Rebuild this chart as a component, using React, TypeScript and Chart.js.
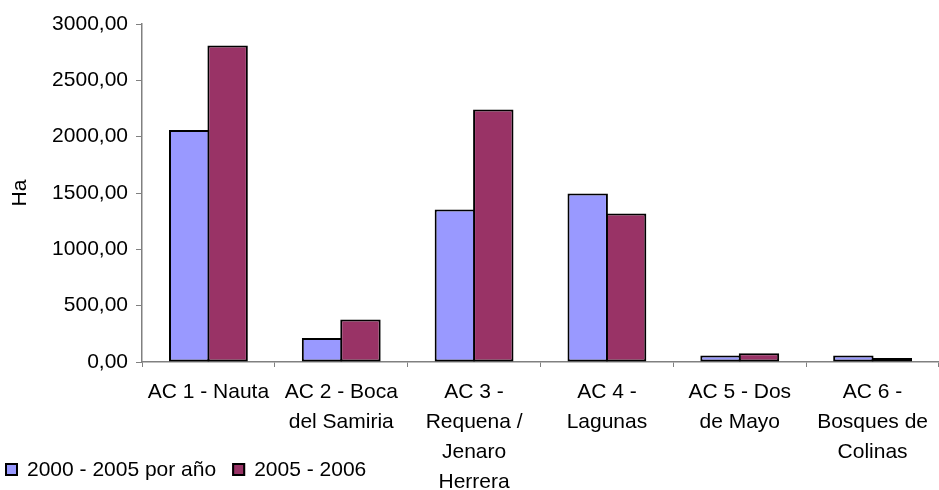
import React, { useEffect, useRef } from 'react';
import { Chart, registerables } from 'chart.js';

Chart.register(...registerables);

const FONT = "'Liberation Sans', Arial, sans-serif";

const categories: string[][] = [
  ['AC 1 - Nauta'],
  ['AC 2 - Boca', 'del Samiria'],
  ['AC 3 -', 'Requena /', 'Jenaro', 'Herrera'],
  ['AC 4 -', 'Lagunas'],
  ['AC 5 - Dos', 'de Mayo'],
  ['AC 6 -', 'Bosques de', 'Colinas'],
];

const series1Label = '2000 - 2005 por año';
const series1Values = [2060, 213, 1354, 1496, 57, 57];

const series2Label = '2005 - 2006';
const series2Values = [2810, 377, 2242, 1318, 77, 36];

const yAxisTitle = 'Ha';
const yMin = 0;
const yMax = 3000;
const yStep = 500;

const series1Color = '#9999FF';
const series2Color = '#993366';

const legendPlugin = {
  id: 'bottomLeftLegend',
  afterDraw(chart: any) {
    const ctx = chart.ctx as CanvasRenderingContext2D;
    ctx.save();
    ctx.font = `21px ${FONT}`;
    ctx.textBaseline = 'alphabetic';
    ctx.textAlign = 'left';
    let x = 5;
    const boxTop = 463;
    const box = 13;
    const baseline = 476;
    chart.data.datasets.forEach((ds: any) => {
      ctx.fillStyle = ds.backgroundColor;
      ctx.fillRect(x, boxTop, box, box);
      ctx.strokeStyle = '#000';
      ctx.lineWidth = 2;
      ctx.strokeRect(x + 1, boxTop + 1, box - 2, box - 2);
      ctx.fillStyle = '#000';
      ctx.fillText(ds.label, x + 22, baseline);
      x += 22 + ctx.measureText(ds.label).width + 16;
    });
    ctx.restore();
  },
};

export default function App() {
  const canvasRef = useRef<HTMLCanvasElement | null>(null);

  useEffect(() => {
    const canvas = canvasRef.current;
    if (!canvas) return;
    const barStyle = {
      borderColor: '#000000',
      borderWidth: 2,
      borderSkipped: false as const,
      categoryPercentage: 0.5785,
      barPercentage: 1.052,
      inflateAmount: 0,
    };
    const chart = new Chart(canvas, {
      type: 'bar',
      data: {
        labels: categories,
        datasets: [
          {
            label: series1Label,
            data: series1Values,
            backgroundColor: series1Color,
            ...barStyle,
          },
          {
            label: series2Label,
            data: series2Values,
            backgroundColor: series2Color,
            ...barStyle,
          },
        ],
      },
      options: {
        animation: false,
        responsive: true,
        maintainAspectRatio: false,
        layout: { padding: { top: 24, left: 0, right: 0, bottom: 0 } },
        plugins: {
          legend: { display: false },
          tooltip: { enabled: false },
        },
        scales: {
          x: {
            offset: true,
            grid: {
              display: true,
              drawOnChartArea: false,
              drawTicks: true,
              tickLength: 5,
              color: '#808080',
              offset: true,
            },
            border: { display: true, color: '#808080', width: 1.5 },
            ticks: {
              autoSkip: false,
              maxRotation: 0,
              minRotation: 0,
              padding: 10,
              color: '#000000',
              font: { family: FONT, size: 21, lineHeight: 30 / 21 },
            },
            afterFit(scale: any) {
              scale.height = 128;
            },
          },
          y: {
            min: yMin,
            max: yMax,
            grid: {
              display: true,
              drawOnChartArea: false,
              drawTicks: true,
              tickLength: 6,
              color: '#808080',
            },
            border: { display: true, color: '#808080', width: 1.5 },
            ticks: {
              stepSize: yStep,
              padding: 8,
              color: '#000000',
              font: { family: FONT, size: 21 },
              callback: (v: any) => Number(v).toFixed(2).replace('.', ','),
            },
            title: {
              display: true,
              text: yAxisTitle,
              color: '#000000',
              font: { family: FONT, size: 21 },
              padding: { top: 8, bottom: 0 },
            },
            afterFit(scale: any) {
              scale.width = 142;
            },
          },
        },
      },
      plugins: [legendPlugin],
    });
    return () => chart.destroy();
  }, []);

  return (
    <div style={{ position: 'fixed', left: 0, top: 0, width: 939, height: 490, background: '#fff' }}>
      <canvas ref={canvasRef} />
    </div>
  );
}
